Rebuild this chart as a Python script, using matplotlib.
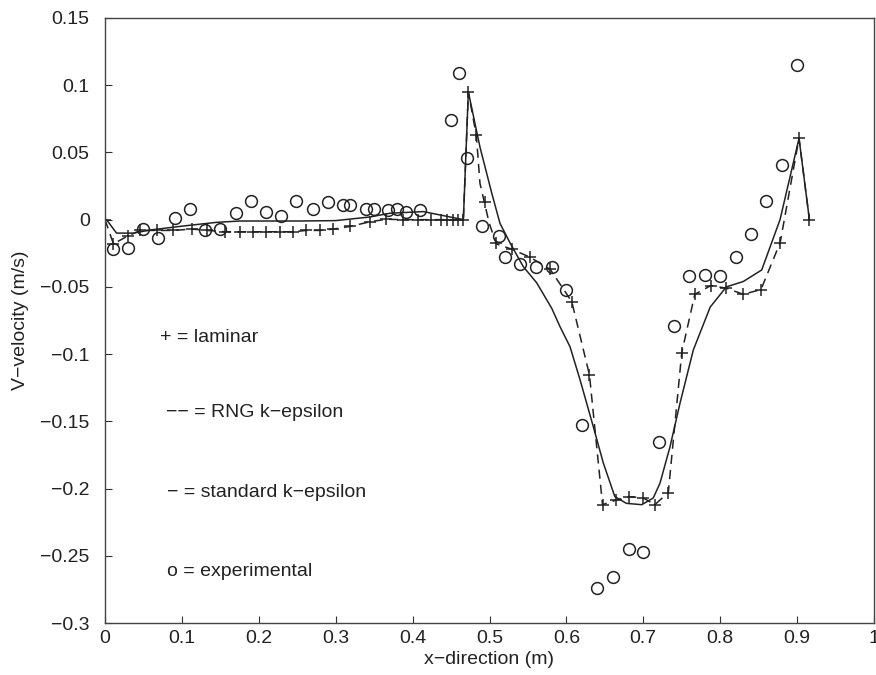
import matplotlib
matplotlib.use('Agg')
import matplotlib.pyplot as plt
from matplotlib.ticker import FuncFormatter

plt.rcParams['font.family'] = ['Liberation Sans', 'DejaVu Sans']

# laminar solution (+)
lam_x = [0.000, 0.011, 0.030, 0.046, 0.067, 0.089, 0.113, 0.133, 0.156, 0.176,
         0.193, 0.210, 0.228, 0.245, 0.262, 0.280, 0.297, 0.319, 0.345, 0.366,
         0.388, 0.407, 0.424, 0.437, 0.445, 0.452, 0.459, 0.466, 0.4725, 0.482,
         0.494, 0.509, 0.529, 0.553, 0.579, 0.607, 0.630, 0.647, 0.665, 0.682,
         0.700, 0.715, 0.7325, 0.750, 0.767, 0.788, 0.808, 0.830, 0.853, 0.878,
         0.9025, 0.916]
lam_v = [0.000, -0.018, -0.012, -0.008, -0.008, -0.008, -0.007, -0.008, -0.009, -0.009,
         -0.009, -0.009, -0.009, -0.009, -0.008, -0.008, -0.007, -0.005, -0.0015, 0.0003,
         0.000, 0.000, 0.000, 0.000, 0.000, 0.000, 0.000, 0.000, 0.095, 0.063,
         0.013, -0.0176, -0.022, -0.028, -0.037, -0.061, -0.1155, -0.212, -0.2085, -0.206,
         -0.207, -0.212, -0.203, -0.099, -0.0555, -0.049, -0.051, -0.0555, -0.052, -0.017,
         0.0605, 0.000]

# RNG k-epsilon (dashed)
rng_x = [0.000, 0.011, 0.030, 0.046, 0.067, 0.089, 0.113, 0.133, 0.156, 0.176,
         0.193, 0.210, 0.228, 0.245, 0.262, 0.280, 0.297, 0.319, 0.345, 0.366,
         0.388, 0.407, 0.424, 0.445, 0.466, 0.4725, 0.483, 0.4876, 0.4998, 0.509,
         0.529, 0.553, 0.579, 0.607, 0.630, 0.647, 0.665, 0.682, 0.700, 0.715,
         0.7325, 0.750, 0.767, 0.788, 0.808, 0.830, 0.853, 0.878, 0.9025, 0.916]
rng_v = [0.000, -0.018, -0.012, -0.008, -0.008, -0.008, -0.007, -0.008, -0.009, -0.009,
         -0.009, -0.009, -0.009, -0.009, -0.008, -0.008, -0.007, -0.005, -0.0015, 0.0003,
         0.000, 0.000, 0.000, 0.000, 0.000, 0.095, 0.062, 0.027, -0.003, -0.018,
         -0.022, -0.028, -0.037, -0.061, -0.1155, -0.212, -0.2085, -0.206, -0.207, -0.212,
         -0.203, -0.099, -0.0555, -0.049, -0.051, -0.0555, -0.052, -0.017, 0.0605, 0.000]

# standard k-epsilon (solid)
std_x = [0.002, 0.015, 0.037, 0.0585, 0.102, 0.145, 0.1755, 0.2535, 0.300, 0.3446,
         0.3706, 0.414, 0.4573, 0.466, 0.4725, 0.4876, 0.503, 0.5136, 0.527, 0.544,
         0.5614, 0.581, 0.5917, 0.6047, 0.6177, 0.635, 0.648, 0.663, 0.678, 0.698,
         0.713, 0.7217, 0.7347, 0.7477, 0.765, 0.787, 0.808, 0.830, 0.854, 0.8778,
         0.9025, 0.916]
std_v = [0.000, -0.010, -0.010, -0.0077, -0.0047, -0.002, -0.001, -0.001, -0.0007, 0.002,
         0.0048, 0.006, 0.001, 0.000, 0.095, 0.054, 0.0196, -0.0027, -0.0176, -0.035,
         -0.047, -0.066, -0.0796, -0.0945, -0.119, -0.154, -0.181, -0.206, -0.211, -0.212,
         -0.207, -0.196, -0.169, -0.1366, -0.097, -0.065, -0.050, -0.046, -0.0374, 0.000,
         0.0605, 0.000]

# experimental (o)
exp_x = [0.010, 0.030, 0.050, 0.069, 0.091, 0.110, 0.130, 0.150, 0.170, 0.190,
         0.210, 0.229, 0.249, 0.270, 0.290, 0.310, 0.318, 0.340, 0.350, 0.368,
         0.380, 0.391, 0.410, 0.450, 0.460, 0.471, 0.490, 0.512, 0.520, 0.540,
         0.560, 0.581, 0.600, 0.620, 0.640, 0.660, 0.681, 0.700, 0.720, 0.740,
         0.760, 0.780, 0.800, 0.821, 0.840, 0.860, 0.880, 0.900]
exp_v = [-0.022, -0.021, -0.007, -0.014, 0.001, 0.008, -0.008, -0.007, 0.005, 0.014,
         0.006, 0.003, 0.014, 0.008, 0.013, 0.011, 0.011, 0.008, 0.008, 0.007,
         0.008, 0.006, 0.007, 0.074, 0.109, 0.046, -0.005, -0.012, -0.028, -0.033,
         -0.035, -0.035, -0.052, -0.153, -0.274, -0.266, -0.245, -0.247, -0.165, -0.079,
         -0.042, -0.041, -0.042, -0.028, -0.011, 0.014, 0.041, 0.115]

fig = plt.figure(figsize=(8.76, 6.75), dpi=100)
ax = fig.add_axes([105/876, 1 - 623/675, 769/876, 605/675])

ax.plot(std_x, std_v, '-', color='#222222', linewidth=1.1)
ax.plot(rng_x, rng_v, '--', color='#222222', linewidth=1.1, dashes=(6, 4))
ax.plot(lam_x, lam_v, '+', color='#222222', markersize=8.5, markeredgewidth=1.1)
ax.plot(exp_x, exp_v, 'o', markersize=8.5, markerfacecolor='none',
        markeredgecolor='#222222', markeredgewidth=1.1)

fs = 14
tc = '#222222'
ax.text(0.072, -0.0873, '+ = laminar', fontsize=fs, va='center', color=tc)
ax.text(0.079, -0.1438, '\u2212\u2212 = RNG k\u2212epsilon', fontsize=fs, va='center', color=tc)
ax.text(0.081, -0.2026, '\u2212 = standard k\u2212epsilon', fontsize=fs, va='center', color=tc)
ax.text(0.081, -0.262, 'o = experimental', fontsize=fs, va='center', color=tc)

ax.set_xlim(0, 1)
ax.set_ylim(-0.3, 0.15)
ax.set_xticks([0, 0.1, 0.2, 0.3, 0.4, 0.5, 0.6, 0.7, 0.8, 0.9, 1])
ax.set_yticks([-0.3, -0.25, -0.2, -0.15, -0.1, -0.05, 0, 0.05, 0.1, 0.15])
fmt = FuncFormatter(lambda v, p: ('%g' % round(v, 3)).replace('-', '\u2212'))
ax.xaxis.set_major_formatter(fmt)
ax.yaxis.set_major_formatter(fmt)
ax.tick_params(direction='in', length=5, width=0.8, labelsize=fs,
               color='#333333', labelcolor=tc)
ax.tick_params(axis='y', pad=11)
ax.tick_params(axis='x', pad=5)
for s in ax.spines.values():
    s.set_linewidth(1.0)
    s.set_color('#444444')

ax.set_xlabel('x\u2212direction (m)', fontsize=fs, labelpad=3, color=tc)
ax.set_ylabel('V\u2212velocity (m/s)', fontsize=fs, labelpad=8, color=tc)

fig.savefig('out.png', dpi=100)
